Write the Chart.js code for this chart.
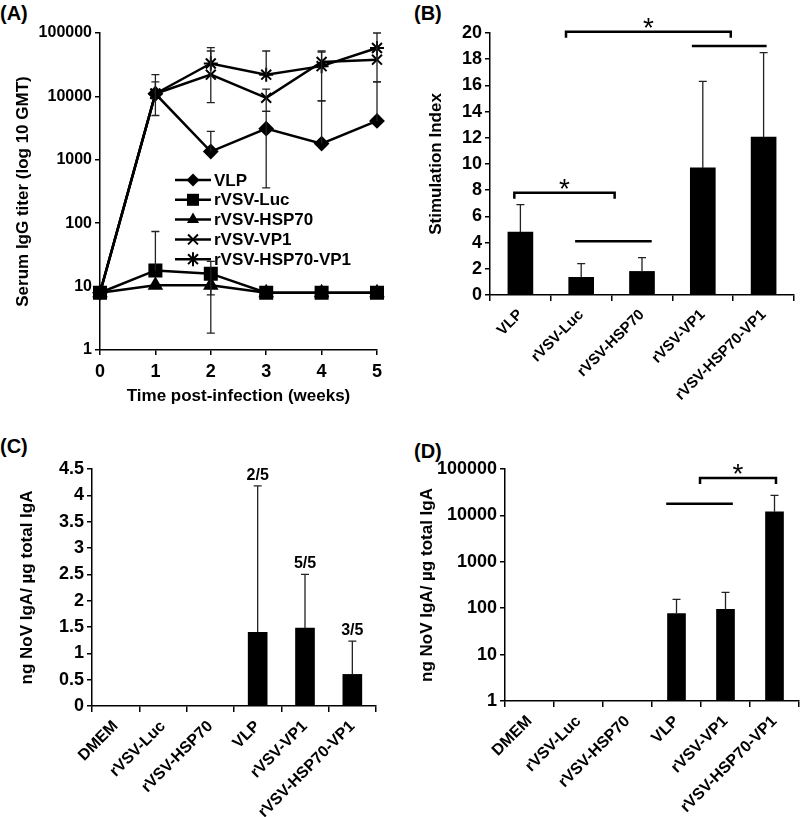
<!DOCTYPE html>
<html>
<head>
<meta charset="utf-8">
<script src="https://cdn.jsdelivr.net/npm/chart.js@4.4.0/dist/chart.umd.min.js"></script>
<style>
  body { margin: 0; background: #fff; width: 800px; height: 817px; position: relative; overflow: hidden;
         font-family: "Liberation Sans", Arial, sans-serif; }
  canvas { position: absolute; }
  .lab { position: absolute; font-weight: bold; font-size: 20px; line-height: 20px; }
</style>
</head>
<body>
<div class="lab" style="left:0;top:3px">(A)</div>
<div class="lab" style="left:414px;top:3px">(B)</div>
<div class="lab" style="left:0;top:436px">(C)</div>
<div class="lab" style="left:414px;top:441px">(D)</div>
<canvas id="chart-a" width="400" height="410" style="left:0;top:0"></canvas>
<canvas id="chart-b" width="400" height="410" style="left:400px;top:0"></canvas>
<canvas id="chart-c" width="400" height="407" style="left:0;top:410px"></canvas>
<canvas id="chart-d" width="400" height="407" style="left:400px;top:410px"></canvas>
<script>
Chart.defaults.font.family = '"Liberation Sans", Arial, sans-serif';
Chart.defaults.font.weight = 'bold';
Chart.defaults.color = '#000';
Chart.defaults.animation = false;

// (A) serum IgG titer over time
const weeks = [0, 1, 2, 3, 4, 5];
const vlpIgG = [8, 11000, 1350, 3100, 1800, 4100];
const vlpHi = [null, 17000, 2800, 5800, 8500, 17000];
const vlpLo = [null, 5000, null, 360, null, null];
const lucIgG = [8, 18, 16, 8, 8, 8];
const lucHi = [null, 74, 25, null, null, null];
const lucLo = [null, null, 7.4, null, null, null];
const hsp70IgG = [8, 10.5, 10.5, 8, 8, 8];
const hsp70Lo = [null, null, 1.85, null, null, null];
const vp1IgG = [8, 11000, 22000, 9500, 35000, 38000];
const vp1Hi = [null, 22000, 52000, 13000, 50000, 100000];
const vp1Lo = [null, null, 8000, 5800, null, null];
const hspVp1IgG = [8, 11000, 33000, 22000, 30000, 58000];
const hspVp1Hi = [null, null, 59000, 52000, 52000, null];
const hspVp1Lo = [null, null, null, null, 8500, 17000];
const logTicks = [1, 10, 100, 1000, 10000, 100000];

// (B) stimulation index
const bCats = ['VLP', 'rVSV-Luc', 'rVSV-HSP70', 'rVSV-VP1', 'rVSV-HSP70-VP1'];
const bIndex = [4.8, 1.35, 1.8, 9.7, 12.05];
const bIndexHi = [6.9, 2.4, 2.85, 16.3, 18.5];

// (C) NoV IgA, linear
const cdCats = ['DMEM', 'rVSV-Luc', 'rVSV-HSP70', 'VLP', 'rVSV-VP1', 'rVSV-HSP70-VP1'];
const cIgA = [null, null, null, 1.4, 1.48, 0.6];
const cIgAHi = [null, null, null, 4.18, 2.5, 1.23];
const cResponders = [null, null, null, '2/5', '5/5', '3/5'];

// (D) NoV IgA, log
const dIgA = [null, null, null, 77, 95, 12000];
const dIgAHi = [null, null, null, 155, 220, 27000];

const pts = arr => weeks.map((w, i) => ({ x: w, y: arr[i] }));

function drawMarker(ctx, style, x, y, r) {
  ctx.beginPath();
  if (style === 'rectRot') {
    ctx.moveTo(x, y - r); ctx.lineTo(x + r, y); ctx.lineTo(x, y + r); ctx.lineTo(x - r, y); ctx.closePath(); ctx.fill();
  } else if (style === 'rect') {
    const s = r * Math.SQRT1_2;
    ctx.fillRect(x - s, y - s, 2 * s, 2 * s);
  } else if (style === 'triangle') {
    ctx.moveTo(x, y - r); ctx.lineTo(x + r * 0.87, y + r * 0.5); ctx.lineTo(x - r * 0.87, y + r * 0.5); ctx.closePath(); ctx.fill();
  } else {
    const d = r * Math.SQRT1_2;
    ctx.moveTo(x - d, y - d); ctx.lineTo(x + d, y + d);
    ctx.moveTo(x + d, y - d); ctx.lineTo(x - d, y + d);
    if (style === 'star') { ctx.moveTo(x, y - r); ctx.lineTo(x, y + r); }
    ctx.stroke();
  }
}

const errorBars = {
  id: 'errorBars',
  afterDatasetsDraw(chart) {
    const ctx = chart.ctx, ys = chart.scales.y;
    chart.data.datasets.forEach((ds, i) => {
      if (!ds.errHi && !ds.errLo) return;
      const meta = chart.getDatasetMeta(i);
      meta.data.forEach((el, j) => {
        const d = ds.data[j];
        const v = d !== null && typeof d === 'object' ? d.y : d;
        if (v == null) return;
        const hi = ds.errHi ? ds.errHi[j] : null;
        const lo = ds.errLo ? ds.errLo[j] : null;
        if (hi == null && lo == null) return;
        const x = el.x;
        const top = ys.getPixelForValue(hi != null ? hi : v);
        const bot = ys.getPixelForValue(lo != null ? lo : v);
        ctx.save();
        ctx.strokeStyle = '#222';
        ctx.lineWidth = 1.3;
        ctx.beginPath();
        ctx.moveTo(x, top); ctx.lineTo(x, bot);
        if (hi != null) { ctx.moveTo(x - 4, top); ctx.lineTo(x + 4, top); }
        if (lo != null) { ctx.moveTo(x - 4, bot); ctx.lineTo(x + 4, bot); }
        ctx.stroke();
        if (ds.topText && ds.topText[j]) {
          ctx.font = 'bold 16px "Liberation Sans", Arial, sans-serif';
          ctx.fillStyle = '#000';
          ctx.textAlign = 'center';
          ctx.fillText(ds.topText[j], x, top - 6);
        }
        ctx.restore();
      });
    });
  }
};

const sigMarks = {
  id: 'sigMarks',
  afterDraw(chart, args, opts) {
    const ctx = chart.ctx, xs = chart.scales.x, ys = chart.scales.y;
    (opts.marks || []).forEach(b => {
      const x1 = xs.getPixelForValue(b.from), x2 = xs.getPixelForValue(b.to);
      const yy = ys.getPixelForValue(b.y);
      ctx.save();
      ctx.strokeStyle = '#000';
      ctx.lineWidth = 2.5;
      ctx.beginPath();
      if (b.bracket) {
        ctx.moveTo(x1, yy + 6); ctx.lineTo(x1, yy); ctx.lineTo(x2, yy); ctx.lineTo(x2, yy + 6);
      } else {
        ctx.moveTo(x1, yy); ctx.lineTo(x2, yy);
      }
      ctx.stroke();
      if (b.star) {
        ctx.font = '28px "Liberation Sans", Arial, sans-serif';
        ctx.fillStyle = '#000';
        ctx.textAlign = 'center';
        ctx.fillText('*', (x1 + x2) / 2, yy + 5);
      }
      ctx.restore();
    });
  }
};

const lineLegend = {
  id: 'lineLegend',
  afterDraw(chart) {
    const ctx = chart.ctx, a = chart.chartArea;
    const x0 = a.left + 75, y0 = a.top + 147;
    chart.data.datasets.forEach((ds, i) => {
      const y = y0 + i * 19.8;
      ctx.save();
      ctx.strokeStyle = '#000'; ctx.fillStyle = '#000';
      ctx.lineWidth = 2.5;
      ctx.beginPath(); ctx.moveTo(x0, y); ctx.lineTo(x0 + 36, y); ctx.stroke();
      ctx.lineWidth = 2;
      drawMarker(ctx, ds.pointStyle, x0 + 18, y, ds.pointRadius);
      ctx.font = 'bold 17px "Liberation Sans", Arial, sans-serif';
      ctx.textBaseline = 'middle';
      ctx.fillText(ds.label, x0 + 39, y + 1);
      ctx.restore();
    });
  }
};

function logY(title, width, titlePad, tickSize) {
  return {
    type: 'logarithmic', min: 1, max: 100000,
    afterBuildTicks: s => { s.ticks = logTicks.map(v => ({ value: v })); },
    afterFit: s => { s.width = width; },
    ticks: { callback: v => String(v), font: { size: tickSize }, padding: 3 },
    grid: { drawOnChartArea: false, tickLength: 5, color: '#000', lineWidth: 1.5 },
    border: { color: '#000', width: 1.5 },
    title: { display: true, text: title, font: { size: 17 }, padding: { top: titlePad, bottom: 0 } }
  };
}

function catX(labels, height, size) {
  return {
    type: 'category', labels: labels,
    afterFit: s => { s.height = height; },
    ticks: { minRotation: 45, maxRotation: 45, autoSkip: false, font: { size: size }, padding: 5 },
    grid: { drawOnChartArea: false, tickLength: 6, color: '#000', lineWidth: 1.5, offset: true },
    border: { color: '#000', width: 1.5 }
  };
}

function lineSet(label, arr, style, r, hi, lo) {
  return {
    label: label, data: pts(arr), pointStyle: style, pointRadius: r,
    borderColor: '#000', backgroundColor: '#000', borderWidth: 2.5,
    pointBorderWidth: 2, pointBackgroundColor: '#000', pointBorderColor: '#000',
    clip: false, errHi: hi, errLo: lo
  };
}

new Chart(document.getElementById('chart-a'), {
  type: 'line',
  data: {
    datasets: [
      lineSet('VLP', vlpIgG, 'rectRot', 6.5, vlpHi, vlpLo),
      lineSet('rVSV-Luc', lucIgG, 'rect', 8.5, lucHi, lucLo),
      lineSet('rVSV-HSP70', hsp70IgG, 'triangle', 7, null, hsp70Lo),
      lineSet('rVSV-VP1', vp1IgG, 'crossRot', 7, vp1Hi, vp1Lo),
      lineSet('rVSV-HSP70-VP1', hspVp1IgG, 'star', 7, hspVp1Hi, hspVp1Lo)
    ]
  },
  options: {
    responsive: false,
    layout: { padding: { top: 33, right: 23, left: 0, bottom: 0 }, autoPadding: false },
    plugins: { legend: { display: false }, tooltip: { enabled: false } },
    scales: {
      x: {
        type: 'linear', min: 0, max: 5,
        afterFit: s => { s.height = 60; },
        ticks: { stepSize: 1, font: { size: 18 }, padding: 6 },
        grid: { drawOnChartArea: false, tickLength: 5, color: '#000', lineWidth: 1.5 },
        border: { color: '#000', width: 1.5 },
        title: { display: true, text: 'Time post-infection (weeks)', font: { size: 17 }, padding: { top: 0, bottom: 3 } }
      },
      y: logY('Serum IgG titer (log 10 GMT)', 100, 13, 16)
    }
  },
  plugins: [errorBars, lineLegend]
});

new Chart(document.getElementById('chart-b'), {
  type: 'bar',
  data: {
    labels: bCats,
    datasets: [{ data: bIndex, errHi: bIndexHi, backgroundColor: '#000', barThickness: 25 }]
  },
  options: {
    responsive: false,
    layout: { padding: { top: 33, right: 6, left: 0, bottom: 0 }, autoPadding: false },
    plugins: {
      legend: { display: false }, tooltip: { enabled: false },
      sigMarks: { marks: [
        { from: -0.1, to: 1.55, y: 7.8, bracket: true, star: true },
        { from: 0.9, to: 2.16, y: 4.1 },
        { from: 0.75, to: 3.46, y: 20.1, bracket: true, star: true },
        { from: 2.82, to: 4.05, y: 19.0 }
      ] }
    },
    scales: {
      x: catX(bCats, 115, 15),
      y: {
        min: 0, max: 20,
        afterFit: s => { s.width = 90; },
        ticks: { stepSize: 2, font: { size: 18 }, padding: 3 },
        grid: { drawOnChartArea: false, tickLength: 5, color: '#000', lineWidth: 1.5 },
        border: { color: '#000', width: 1.5 },
        title: { display: true, text: 'Stimulation Index', font: { size: 17 }, padding: { top: 26, bottom: 0 } }
      }
    }
  },
  plugins: [errorBars, sigMarks]
});

new Chart(document.getElementById('chart-c'), {
  type: 'bar',
  data: {
    labels: cdCats,
    datasets: [{ data: cIgA, errHi: cIgAHi, topText: cResponders, backgroundColor: '#000', barThickness: 19 }]
  },
  options: {
    responsive: false,
    layout: { padding: { top: 59, right: 24, left: 0, bottom: 0 }, autoPadding: false },
    plugins: { legend: { display: false }, tooltip: { enabled: false } },
    scales: {
      x: catX(cdCats, 111, 16),
      y: {
        min: 0, max: 4.5,
        afterFit: s => { s.width = 92; },
        ticks: { stepSize: 0.5, callback: v => String(v), font: { size: 18 }, padding: 3 },
        grid: { drawOnChartArea: false, tickLength: 5, color: '#000', lineWidth: 1.5 },
        border: { color: '#000', width: 1.5 },
        title: { display: true, text: 'ng NoV IgA/ µg total IgA', font: { size: 17 }, padding: { top: 17, bottom: 0 } }
      }
    }
  },
  plugins: [errorBars]
});

new Chart(document.getElementById('chart-d'), {
  type: 'bar',
  data: {
    labels: cdCats,
    datasets: [{ data: dIgA, errHi: dIgAHi, backgroundColor: '#000', barThickness: 18 }]
  },
  options: {
    responsive: false,
    layout: { padding: { top: 59, right: 1, left: 0, bottom: 0 }, autoPadding: false },
    plugins: {
      legend: { display: false }, tooltip: { enabled: false },
      sigMarks: { marks: [
        { from: 3.48, to: 5.03, y: 64000, bracket: true, star: true },
        { from: 2.79, to: 4.15, y: 17800 }
      ] }
    },
    scales: {
      x: catX(cdCats, 116, 16),
      y: logY('ng NoV IgA/ µg total IgA', 105, 17, 18)
    }
  },
  plugins: [errorBars, sigMarks]
});
</script>
</body>
</html>
